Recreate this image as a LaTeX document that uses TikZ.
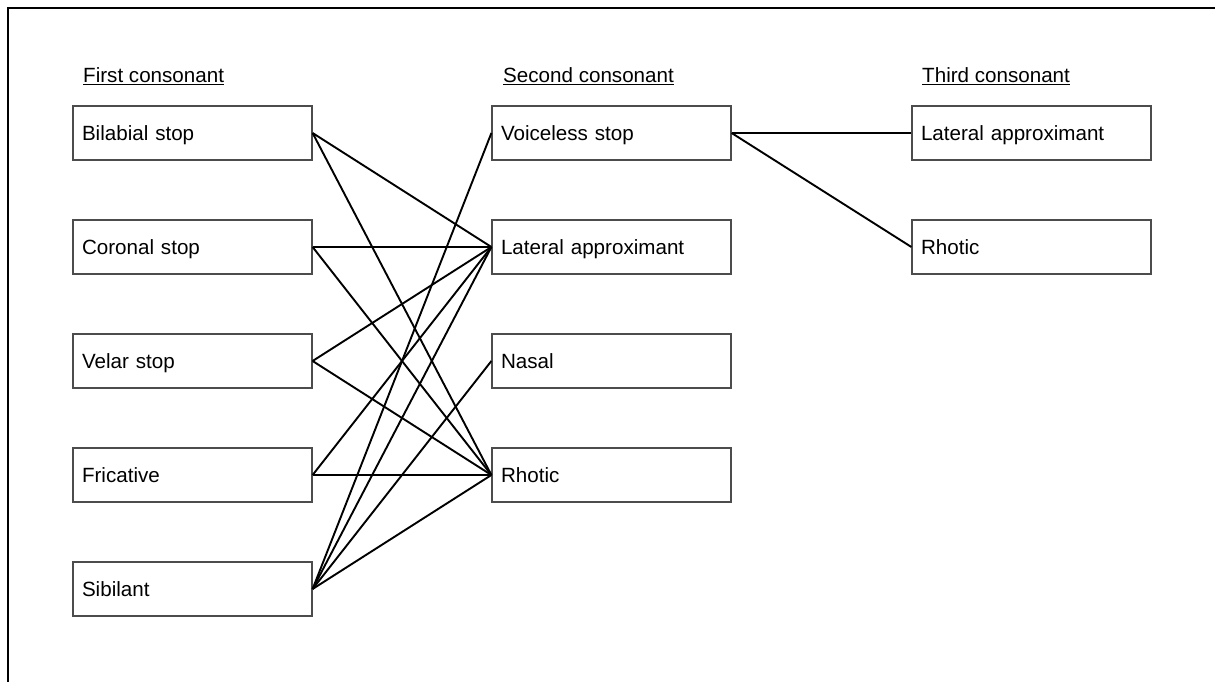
\documentclass[tikz,border=0pt]{standalone}
\usepackage{fontspec}
\setmainfont{Liberation Sans}
\usetikzlibrary{positioning}

\begin{document}
\begin{tikzpicture}[x=1pt,y=-1pt,
  box/.style={draw=black!70, line width=1.2pt, minimum height=54pt, text width=221pt,
    inner xsep=9pt, inner ysep=0pt, align=left, text height=14.8pt, text depth=0pt,
    font=\fontsize{20.6}{24}\selectfont},
  heading/.style={anchor=base west, inner sep=0pt, font=\fontsize{20.6}{24}\selectfont},
  link/.style={line width=1.9pt}]
\useasboundingbox (0,0) rectangle (1215,682);
\draw[line width=2.6pt] (8,682) -- (8,8) -- (1215,8);

% column headings
\node[heading] (first) at (83,83) {\underline{First consonant}};
\node[heading] (second) at (503,83) {\underline{Second consonant}};
\node[heading] (third) at (922,83) {\underline{Third consonant}};

% first consonant
\node[box] (bil) at (192.5,133) {Bilabial stop};
\node[box, below=58.8pt of bil] (cor) {Coronal stop};
\node[box, below=58.8pt of cor] (vel) {Velar stop};
\node[box, below=58.8pt of vel] (fri) {Fricative};
\node[box, below=58.8pt of fri] (sib) {Sibilant};

% second consonant
\node[box] (vls) at (611.5,133) {Voiceless stop};
\node[box, below=58.8pt of vls] (lat) {Lateral approximant};
\node[box, below=58.8pt of lat] (nas) {Nasal};
\node[box, below=58.8pt of nas] (rho) {Rhotic};

% third consonant
\node[box] (latb) at (1031.5,133) {Lateral approximant};
\node[box, below=58.8pt of latb] (rhob) {Rhotic};

% links
\draw[link] (bil.east) -- (lat.west);
\draw[link] (bil.east) -- (rho.west);
\draw[link] (cor.east) -- (lat.west);
\draw[link] (cor.east) -- (rho.west);
\draw[link] (vel.east) -- (lat.west);
\draw[link] (vel.east) -- (rho.west);
\draw[link] (fri.east) -- (lat.west);
\draw[link] (fri.east) -- (rho.west);
\draw[link] (sib.east) -- (vls.west);
\draw[link] (sib.east) -- (lat.west);
\draw[link] (sib.east) -- (nas.west);
\draw[link] (sib.east) -- (rho.west);
\draw[link] (vls.east) -- (latb.west);
\draw[link] (vls.east) -- (rhob.west);
\end{tikzpicture}
\end{document}
